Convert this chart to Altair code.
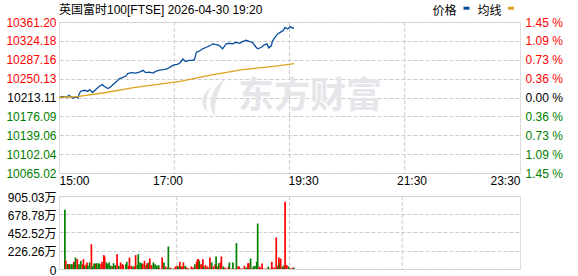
import altair as alt
import pandas as pd

BASE = 10213.11
TITLE = "英国富时100[FTSE] 2026-04-30 19:20"
FONT = "Liberation Sans, Noto Sans CJK SC"

price_ticks = [10065.02, 10102.04, 10139.06, 10176.09, 10213.11, 10250.13, 10287.16, 10324.18, 10361.20]
vol_ticks = [0, 226.26, 452.52, 678.78, 905.03]
time_tick_min = [0, 120, 270, 390, 510]
time_tick_labels = ["15:00", "17:00", "19:30", "21:30", "23:30"]
grid_min = [127.5, 255, 382.5]

price_min = [0, 4, 8, 11, 15, 19, 21, 22, 24, 28, 32, 34, 37, 41, 45, 48, 50, 54, 57, 59,
             63, 67, 70, 74, 76, 80, 85, 89, 93, 96, 100, 104, 107, 111, 116, 120, 124, 128, 131, 134,
             137, 140, 144, 148, 150, 152, 155, 159, 163, 166, 170, 174, 177, 181, 185, 188, 192, 196, 200, 203,
             207, 211, 214, 218, 220, 224, 227, 230, 232, 235, 236, 238, 242, 246, 248, 250, 253, 256, 258, 260]
price_val = [10213.1, 10215.1, 10213.1, 10217.6, 10212.3, 10214.3, 10212.3, 10219.0, 10225.4, 10227.3,
             10225.4, 10228.7, 10222.8, 10229.3, 10235.7, 10238.4, 10235.1, 10230.6, 10233.8, 10237.1,
             10243.5, 10250.1, 10252.1, 10255.2, 10259.9, 10261.8, 10261.0, 10263.0, 10266.3, 10261.8,
             10263.0, 10261.0, 10264.4, 10266.9, 10267.7, 10269.6, 10274.1, 10277.4, 10278.0, 10281.3,
             10288.5, 10283.9, 10285.8, 10285.8, 10287.8, 10302.0, 10303.9, 10308.6, 10311.7, 10313.7,
             10318.4, 10317.0, 10315.6, 10308.6, 10318.3, 10319.5, 10318.3, 10321.4, 10319.5, 10322.8,
             10325.3, 10322.8, 10321.4, 10311.7, 10308.6, 10311.7, 10316.4, 10318.3, 10310.5, 10315.0,
             10322.8, 10329.2, 10337.8, 10342.3, 10344.2, 10350.6, 10347.5, 10352.0, 10349.4, 10349.4]

avg_min = [0, 21, 26, 52, 81, 107, 134, 166, 203, 240, 260]
avg_val = [10213.1, 10214.7, 10216.2, 10222.9, 10231.8, 10238.4, 10244.9, 10256.6, 10267.7, 10274.7, 10279.4]

vol_min = [1, 2, 4, 5, 6, 8, 9, 11, 12, 13, 15, 17, 19, 21, 22, 23, 25, 26, 27, 29,
           31, 32, 34, 35, 36, 37, 39, 40, 42, 43, 45, 46, 48, 49, 51, 53, 55, 56, 58, 60,
           62, 64, 66, 67, 70, 71, 73, 74, 76, 78, 80, 81, 83, 84, 86, 88, 89, 91, 93, 94,
           96, 97, 99, 101, 103, 105, 107, 108, 111, 113, 115, 117, 118, 120, 122, 124, 126, 128, 129, 131,
           132, 133, 134, 135, 137, 139, 141, 144, 146, 148, 150, 151, 152, 153, 155, 157, 158, 160, 162, 164,
           165, 167, 169, 171, 172, 174, 175, 177, 178, 180, 182, 184, 186, 187, 189, 191, 193, 195, 197, 198,
           200, 202, 204, 206, 208, 209, 211, 212, 214, 216, 218, 219, 221, 222, 224, 226, 229, 231, 233, 235,
           236, 238, 240, 242, 243, 244, 245, 247, 248, 249, 250, 252, 254, 256, 257, 259, 260]
vol_val = [734, 101, 60, 60, 60, 60, 60, 89, 81, 143, 122, 60, 101, 60, 122, 39, 52, 81, 39, 81,
           308, 31, 68, 68, 60, 72, 68, 68, 60, 89, 172, 155, 81, 60, 81, 39, 31, 72, 48, 184,
           39, 81, 60, 48, 60, 89, 39, 143, 39, 31, 31, 172, 48, 184, 81, 72, 60, 101, 48, 72,
           81, 130, 48, 81, 60, 39, 48, 14, 143, 81, 31, 14, 279, 14, 6, 6, 31, 39, 31, 89,
           31, 31, 19, 81, 39, 19, 6, 31, 19, 60, 89, 122, 122, 101, 60, 122, 31, 48, 31, 19,
           143, 81, 31, 60, 155, 31, 72, 81, 155, 31, 19, 6, 31, 81, 6, 81, 6, 320, 31, 31,
           6, 6, 39, 19, 72, 72, 130, 6, 31, 39, 89, 564, 31, 14, 68, 6, 6, 31, 6, 89,
           19, 19, 391, 39, 143, 72, 130, 31, 19, 48, 833, 48, 31, 6, 6, 19, 14]
vol_dir = ["G", "R", "G", "G", "R", "G", "G", "R", "G", "G", "R", "G", "G", "R", "R", "G", "R", "R", "G", "G",
           "R", "G", "G", "G", "R", "G", "G", "G", "R", "R", "R", "R", "G", "G", "G", "G", "R", "G", "G", "R",
           "G", "R", "R", "R", "G", "G", "R", "R", "R", "G", "R", "R", "G", "G", "G", "G", "R", "R", "G", "R",
           "G", "R", "R", "G", "G", "G", "G", "R", "R", "G", "R", "G", "G", "R", "G", "R", "R", "R", "G", "R",
           "G", "R", "R", "R", "G", "R", "R", "R", "R", "G", "R", "R", "R", "G", "R", "R", "G", "R", "R", "G",
           "R", "G", "R", "R", "G", "R", "G", "R", "R", "G", "R", "R", "R", "G", "R", "G", "R", "G", "R", "R",
           "R", "R", "R", "G", "R", "R", "G", "R", "G", "G", "G", "G", "R", "R", "R", "R", "R", "G", "R", "R",
           "R", "R", "R", "G", "R", "G", "R", "G", "R", "G", "R", "R", "G", "R", "R", "R", "G"]

legend_labels = ["价格", "均线"]
legend_colors = ["#0a4f9e", "#dfa21f"]

W, H1, H2 = 461, 151, 73
GRID = "#cccccc"
DASH = [4, 2]

time_expr = " : ".join(f"datum.value == {m} ? '{t}'" for m, t in zip(time_tick_min, time_tick_labels)) + " : ''"
color_expr = (f"datum.value > {BASE + 0.05} ? '#ff0000' : "
              f"(datum.value < {BASE - 0.05} ? '#008000' : '#000000')")
pct_expr = f"format(abs(datum.value - {BASE}) / {BASE} * 100, '.2f') + ' %'"

xscale = alt.Scale(domain=[0, 510], nice=False, zero=False)
x_main = alt.X("minute:Q", scale=xscale, title=None,
               axis=alt.Axis(values=time_tick_min, labelExpr=time_expr, grid=False, domain=False,
                             ticks=False, labelPadding=2, labelFont=FONT, labelFontSize=12,
                             labelColor="#000000", labelFlush=True))
x_vol = alt.X("minute:Q", scale=xscale, axis=None)
yscale = alt.Scale(domain=[price_ticks[0], price_ticks[-1]], nice=False, zero=False)

df_line = pd.concat([
    pd.DataFrame({"minute": price_min, "value": price_val, "series": legend_labels[0]}),
    pd.DataFrame({"minute": avg_min, "value": avg_val, "series": legend_labels[1]}),
])

vgrid = alt.Chart(pd.DataFrame({"minute": grid_min})).mark_rule(
    color=GRID, strokeDash=DASH, strokeWidth=1).encode(x=x_main)

logo_path = ("M 0.55 -1 C -0.35 -0.45 -0.45 0.45 -0.05 1 C -0.1 0.35 0.05 -0.4 0.55 -1 Z "
             "M -0.15 -0.55 C -0.85 -0.15 -0.8 0.5 -0.45 0.75 C -0.55 0.25 -0.5 -0.2 -0.15 -0.55 Z")
logo = alt.Chart(pd.DataFrame({"k": [1]})).mark_point(
    shape=logo_path, filled=True, color="#e6e6ea", opacity=1, size=1500).encode(
    x=alt.value(157), y=alt.value(75))
wm = alt.Chart(pd.DataFrame({"t": ["东方财富"]})).mark_text(
    font="Noto Sans CJK SC", fontSize=36, fontWeight="bold", color="#e6e6ea",
    align="center", baseline="middle").encode(text="t:N", x=alt.value(251), y=alt.value(75))

lines = alt.Chart(df_line).mark_line(strokeWidth=1.3).encode(
    x=x_main,
    y=alt.Y("value:Q", scale=yscale, title=None,
            axis=alt.Axis(orient="left", values=price_ticks, format=".2f", grid=True, gridColor=GRID,
                          gridDash=DASH, domain=False, ticks=False, labelPadding=3, labelFont=FONT,
                          labelFontSize=12, labelColor={"expr": color_expr})),
    color=alt.Color("series:N", scale=alt.Scale(domain=legend_labels, range=legend_colors), legend=None),
)

pct = alt.Chart(pd.DataFrame({"value": price_ticks})).mark_point(opacity=0).encode(
    y=alt.Y("value:Q", scale=yscale, title=None,
            axis=alt.Axis(orient="right", values=price_ticks, labelExpr=pct_expr, grid=False,
                          domain=False, ticks=False, labelPadding=5, labelFont=FONT,
                          labelFontSize=12, labelColor={"expr": color_expr})),
)

title = alt.Chart(pd.DataFrame({"t": [TITLE]})).mark_text(
    align="left", baseline="middle", font=FONT, fontSize=12, color="#000000").encode(
    text="t:N", x=alt.value(0), y=alt.value(-12))

leg_t1 = alt.Chart(pd.DataFrame({"t": [legend_labels[0]]})).mark_text(
    align="left", baseline="middle", font=FONT, fontSize=12, color="#000000").encode(
    text="t:N", x=alt.value(373.5), y=alt.value(-11.5))
leg_t2 = alt.Chart(pd.DataFrame({"t": [legend_labels[1]]})).mark_text(
    align="left", baseline="middle", font=FONT, fontSize=12, color="#000000").encode(
    text="t:N", x=alt.value(418.5), y=alt.value(-11.5))
leg_r1 = alt.Chart(pd.DataFrame({"k": [1]})).mark_rect(color=legend_colors[0]).encode(
    x=alt.value(404.5), x2=alt.value(410.5), y=alt.value(-15.3), y2=alt.value(-12.3))
leg_r2 = alt.Chart(pd.DataFrame({"k": [1]})).mark_rect(color=legend_colors[1]).encode(
    x=alt.value(449), x2=alt.value(455), y=alt.value(-15.3), y2=alt.value(-12.3))

main = alt.layer(vgrid, logo, wm, lines, pct, title, leg_t1, leg_t2, leg_r1, leg_r2).resolve_scale(
    y="independent").properties(width=W, height=H1)

vol_df = pd.DataFrame({"minute": vol_min, "vol": vol_val, "dir": vol_dir})
vgrid2 = alt.Chart(pd.DataFrame({"minute": grid_min})).mark_rule(
    color=GRID, strokeDash=DASH, strokeWidth=1).encode(x=x_vol)
bars = alt.Chart(vol_df).mark_bar(size=1.7).encode(
    x=x_vol,
    y=alt.Y("vol:Q", scale=alt.Scale(domain=[0, vol_ticks[-1]], nice=False), title=None,
            axis=alt.Axis(values=vol_ticks,
                          labelExpr="datum.value == 0 ? '0' : format(datum.value, '.2f') + '万'",
                          grid=True, gridColor=GRID, gridDash=DASH, domain=False, ticks=False,
                          labelPadding=3, labelFont=FONT, labelFontSize=12, labelColor="#000000",
                          labelOffset=1)),
    color=alt.Color("dir:N", scale=alt.Scale(domain=["R", "G"], range=["#ff0000", "#008000"]), legend=None),
)
vol = alt.layer(vgrid2, bars).properties(width=W, height=H2)

chart = alt.vconcat(main, vol, spacing=3).resolve_scale(color="independent").properties(
    padding={"left": 5, "top": 3, "right": 0, "bottom": 0}
).configure_view(stroke="#999999", strokeWidth=1).configure(background="white")

chart.save("out.html", embed_options={"renderer": "svg", "actions": False})
